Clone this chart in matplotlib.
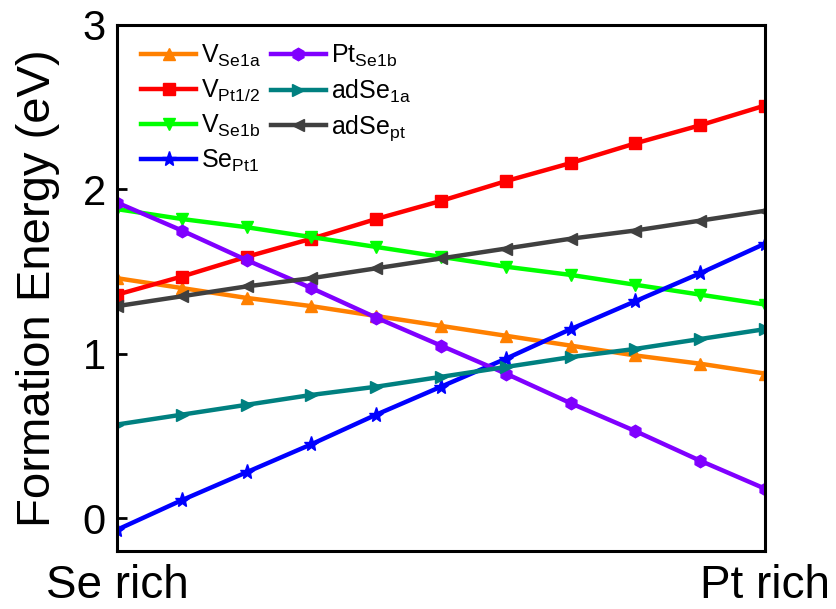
import numpy as np
import matplotlib
matplotlib.use("Agg")
import matplotlib.pyplot as plt

plt.rcParams['font.family'] = 'Liberation Sans'
plt.rcParams['mathtext.fontset'] = 'custom'
plt.rcParams['mathtext.rm'] = 'Liberation Sans'
plt.rcParams['mathtext.it'] = 'Liberation Sans'

# chemical potential steps from Se rich to Pt rich
steps = list(range(11))

v_se1a = [1.46, 1.40, 1.34, 1.29, 1.23, 1.17, 1.11, 1.05, 0.99, 0.94, 0.88]
v_pt12 = [1.36, 1.47, 1.59, 1.70, 1.82, 1.93, 2.05, 2.16, 2.28, 2.39, 2.51]
v_se1b = [1.88, 1.82, 1.77, 1.71, 1.65, 1.59, 1.53, 1.48, 1.42, 1.36, 1.30]
se_pt1 = [-0.07, 0.11, 0.28, 0.45, 0.63, 0.80, 0.97, 1.15, 1.32, 1.49, 1.67]
pt_se1b = [1.92, 1.75, 1.57, 1.40, 1.22, 1.05, 0.88, 0.70, 0.53, 0.35, 0.18]
ad_se1a = [0.57, 0.63, 0.69, 0.75, 0.80, 0.86, 0.92, 0.98, 1.03, 1.09, 1.15]
ad_sept = [1.29, 1.35, 1.41, 1.46, 1.52, 1.58, 1.64, 1.70, 1.75, 1.81, 1.87]

x_labels = ['Se rich', 'Pt rich']
y_ticks = [0, 1, 2, 3]

# order chosen so the two-column legend reads like the original
series = [
    (v_se1a, r'V$_{\mathrm{Se1a}}$', '#FF8000', '^'),
    (v_pt12, r'V$_{\mathrm{Pt1/2}}$', '#FF0000', 's'),
    (v_se1b, r'V$_{\mathrm{Se1b}}$', '#00FF00', 'v'),
    (se_pt1, r'Se$_{\mathrm{Pt1}}$', '#0000FF', '*'),
    (pt_se1b, r'Pt$_{\mathrm{Se1b}}$', '#8000FF', 'h'),
    (ad_se1a, r'adSe$_{\mathrm{1a}}$', '#008080', '>'),
    (ad_sept, r'adSe$_{\mathrm{pt}}$', '#404040', '<'),
]

fig = plt.figure(figsize=(8.36, 6.09), dpi=100)
ax = fig.add_axes([0.140, 0.095, 0.775, 0.864])

for vals, lab, col, mk in series:
    ax.plot(steps, vals, color=col, marker=mk, lw=3.2, ms=9 if mk != '*' else 11,
            label=lab)

ax.set_xlim(0, 10)
ax.set_ylim(-0.2, 3)
ax.set_xticks([0, 10])
ax.set_xticklabels(x_labels, fontsize=33)
ax.tick_params(axis='x', length=0, pad=9)
ax.set_yticks(y_ticks)
ax.tick_params(axis='y', direction='in', length=7, width=2, labelsize=30, pad=8)
ax.set_ylabel('Formation Energy (eV)', fontsize=34, labelpad=16)
for s in ax.spines.values():
    s.set_linewidth(2.2)

ax.legend(loc='upper left', bbox_to_anchor=(0.01, 1.0), ncol=2, frameon=False,
          fontsize=18, handlelength=2.2, handletextpad=0.2, columnspacing=0.4,
          labelspacing=0.35, borderaxespad=0.3)

fig.savefig('out.png', dpi=100)
